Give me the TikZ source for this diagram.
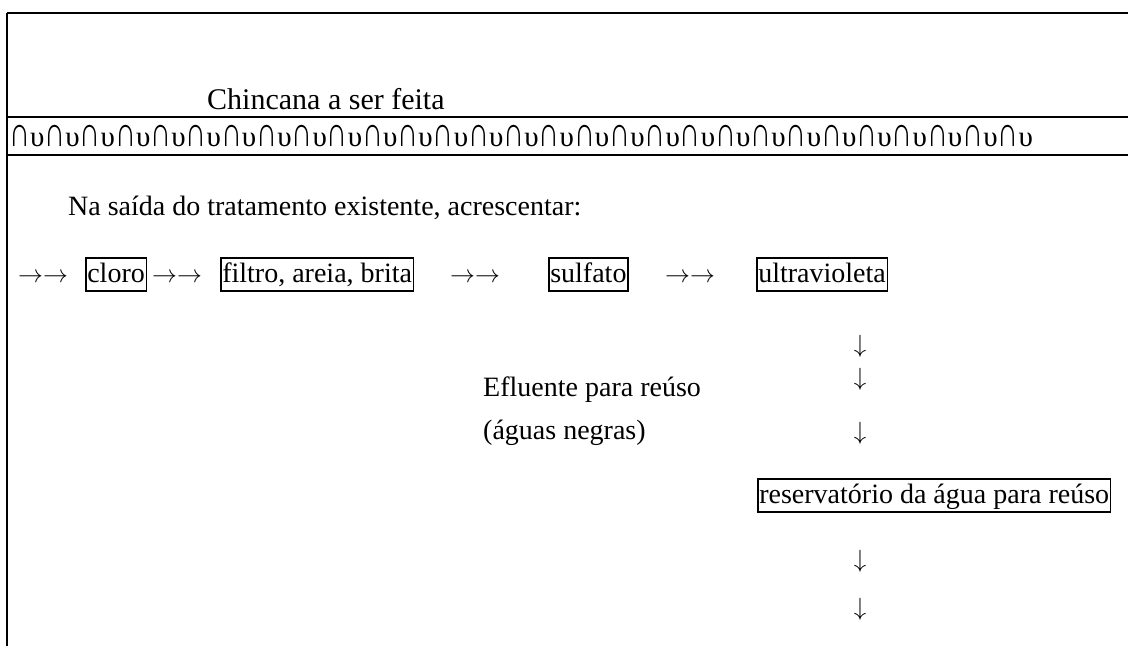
\documentclass[tikz,border=0pt]{standalone}
\usepackage{fontspec}
\setmainfont{Liberation Serif}
\newcommand{\tallcap}{\scalebox{1}[1.45]{∩}}
\begin{document}
\begin{tikzpicture}[x=1pt,y=-1pt,
  txt/.style={anchor=base west,inner sep=0pt,font=\fontsize{28}{34}\selectfont},
  rarr/.style={anchor=base west,inner sep=0pt,font=\fontsize{25}{30}\selectfont},
  darr/.style={anchor=base,inner sep=0pt,font=\fontsize{28}{32}\selectfont},
  boxed/.style={txt,draw,line width=1.6pt,inner xsep=1.5pt,text height=22pt,text depth=7pt,inner ysep=2pt},
  rule/.style={line width=1.6pt}]
\useasboundingbox (0,0) rectangle (1128,646);
\fill[white] (0,0) rectangle (1128,646);
% frame lines
\coordinate (tl) at (7,13);
\coordinate (tr) at (1128,13);
\coordinate (bl) at (7,646);
\coordinate (m1l) at (7,117);
\coordinate (m1r) at (1128,117);
\coordinate (m2l) at (7,155);
\coordinate (m2r) at (1128,155);
\draw[rule] (tl) -- (tr);
\draw[rule] (tl) -- (bl);
\draw[line width=2.2pt] (m1l) -- (m1r);
\draw[line width=1.3pt] (m2l) -- (m2r);
% texts
\node[txt,font=\fontsize{30}{36}\selectfont] (title) at (207,109) {Chincana a ser feita};
\node[txt,font=\fontsize{29}{34}\selectfont] (wave) at (9,146) {\tallcap υ\tallcap υ\tallcap υ\tallcap υ\tallcap υ\tallcap υ\tallcap υ\tallcap υ\tallcap υ\tallcap υ\tallcap υ\tallcap υ\tallcap υ\tallcap υ\tallcap υ\tallcap υ\tallcap υ\tallcap υ\tallcap υ\tallcap υ\tallcap υ\tallcap υ\tallcap υ\tallcap υ\tallcap υ\tallcap υ\tallcap υ\tallcap υ\tallcap υ};
\node[txt] (intro) at (68,215) {Na saída do tratamento existente, acrescentar:};
% row
\node[rarr] (a1) at (18,282) {$\rightarrow\rightarrow$};
\node[boxed] (cloro) at (85,282) {cloro};
\node[rarr] (a2) at (152,282) {$\rightarrow\rightarrow$};
\node[boxed] (filtro) at (220,282) {filtro, areia, brita};
\node[rarr] (a3) at (450,282) {$\rightarrow\rightarrow$};
\node[boxed] (sulfato) at (548,282) {sulfato};
\node[rarr] (a4) at (665,282) {$\rightarrow\rightarrow$};
\node[boxed] (uv) at (756,282) {ultravioleta};
% down arrows and side text
\node[darr] (d1) at (860,352) {$\downarrow$};
\node[darr] (d2) at (860,385) {$\downarrow$};
\node[darr] (d3) at (860,439) {$\downarrow$};
\node[txt] (ef1) at (483,396) {Efluente para reúso};
\node[txt] (ef2) at (483,439) {(águas negras)};
\node[boxed] (res) at (757,503) {reservatório da água para reúso};
\node[darr] (d4) at (860,567) {$\downarrow$};
\node[darr] (d5) at (860,615) {$\downarrow$};
\end{tikzpicture}
\end{document}
